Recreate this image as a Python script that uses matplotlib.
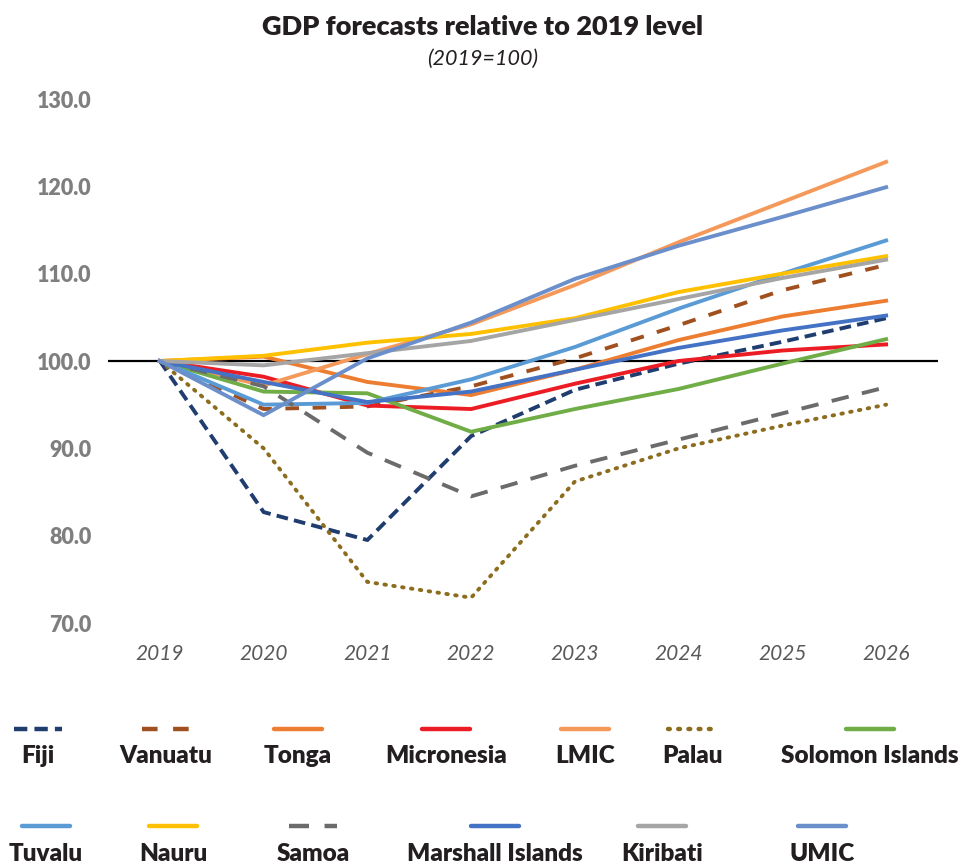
import matplotlib
matplotlib.use("Agg")
import matplotlib.pyplot as plt
from matplotlib.lines import Line2D

years = ["2019", "2020", "2021", "2022", "2023", "2024", "2025", "2026"]

fiji        = [100, 82.7, 79.5, 91.4, 96.7, 99.7, 102.2, 104.9]
vanuatu     = [100, 94.5, 94.8, 97.1, 100.3, 104.1, 108.1, 111.0]
tonga       = [100, 100.5, 97.6, 96.1, 99.0, 102.4, 105.1, 106.9]
micronesia  = [100, 98.2, 94.9, 94.5, 97.4, 100.0, 101.2, 101.9]
lmic        = [100, 97.2, 100.8, 104.2, 108.7, 113.6, 118.2, 122.8]
palau       = [100, 90.0, 74.7, 72.9, 86.2, 90.0, 92.6, 95.0]
solomon     = [100, 96.5, 96.3, 91.9, 94.5, 96.8, 99.7, 102.5]
tuvalu      = [100, 95.0, 95.2, 97.9, 101.6, 106.0, 110.0, 113.8]
nauru       = [100, 100.6, 102.1, 103.1, 104.9, 107.9, 110.0, 112.0]
samoa       = [100, 97.1, 89.5, 84.5, 88.0, 91.0, 94.0, 97.0]
marshall    = [100, 97.6, 95.3, 96.5, 99.0, 101.5, 103.5, 105.2]
kiribati    = [100, 99.5, 100.9, 102.3, 104.7, 107.1, 109.5, 111.6]
umic        = [100, 93.8, 100.3, 104.4, 109.4, 113.2, 116.5, 119.9]

names = ["Fiji", "Vanuatu", "Tonga", "Micronesia", "LMIC", "Palau", "Solomon Islands",
         "Tuvalu", "Nauru", "Samoa", "Marshall Islands", "Kiribati", "UMIC"]
data = [fiji, vanuatu, tonga, micronesia, lmic, palau, solomon,
        tuvalu, nauru, samoa, marshall, kiribati, umic]

yticks = [70, 80, 90, 100, 110, 120, 130]

colors = ["#1F3D6E", "#A0501E", "#ED7D31", "#EC1C24", "#F5995A", "#8C6D1F", "#70AD47",
          "#5B9BD5", "#FFC000", "#6B6B6B", "#4472C4", "#A5A5A5", "#6B8FCB"]
styles = [(0, (3, 1.6)), (0, (3.5, 3.5)), "-", "-", "-", (0, (0.4, 1.9)), "-",
          "-", "-", (0, (4.5, 3.5)), "-", "-", "-"]
caps = ["butt", "butt", "butt", "butt", "butt", "round", "butt",
        "butt", "butt", "butt", "butt", "butt", "butt"]

FONT = "Lato"
fig = plt.figure(figsize=(9.66, 8.67), dpi=100)
ax = fig.add_axes([108/966, 1-623/867, (938-108)/966, (623-99)/867])

x = list(range(len(years)))
for name, vals, c, ls, cap in zip(names, data, colors, styles, caps):
    ax.plot(x, vals, color=c, lw=2.8, linestyle=ls, dash_capstyle=cap,
            solid_joinstyle="miter", label=name)

ax.axhline(100, color="black", lw=1.6, zorder=1)

ax.set_xlim(-0.5, 7.5)
ax.set_ylim(70, 130)
ax.set_yticks(yticks)
ax.set_yticklabels([f"{v:.1f}" for v in yticks], fontfamily=FONT, fontweight="heavy",
                   fontsize=15.5, color="#7F7F7F")
ax.set_xticks(x)
ax.set_xticklabels(years, fontfamily=FONT, fontstyle="italic", fontsize=15, color="#595959")
ax.tick_params(axis="both", length=0)
ax.tick_params(axis="y", pad=12)
ax.tick_params(axis="x", pad=15)
for s in ax.spines.values():
    s.set_visible(False)

fig.text(483/966, 1-27/867, "GDP forecasts relative to 2019 level", ha="center", va="center",
         fontfamily=FONT, fontweight="heavy", fontsize=19.5, color="#231F20")
fig.text(483/966, 1-59/867, "(2019=100)", ha="center", va="center",
         fontfamily=FONT, fontstyle="italic", fontsize=15.5, color="#231F20")

# legend laid out as in the reference: sample line above label
centers = [38, 166, 298, 446, 585, 692, 870, 46, 173, 313, 495, 662, 822]
rows = [0, 0, 0, 0, 0, 0, 0, 1, 1, 1, 1, 1, 1]
line_y = [729, 826]
text_y = [756, 854]
for name, c, ls, cap, cx, r in zip(names, colors, styles, caps, centers, rows):
    ln = Line2D([(cx-24)/966, (cx+24)/966], [1-line_y[r]/867]*2, transform=fig.transFigure,
                color=c, lw=3.2, linestyle=ls, dash_capstyle=cap, solid_capstyle="round")
    fig.add_artist(ln)
    fig.text(cx/966, 1-text_y[r]/867, name, ha="center", va="center",
             fontfamily=FONT, fontweight="heavy", fontsize=17.5, color="#231F20")

fig.savefig("out.png", dpi=100)
